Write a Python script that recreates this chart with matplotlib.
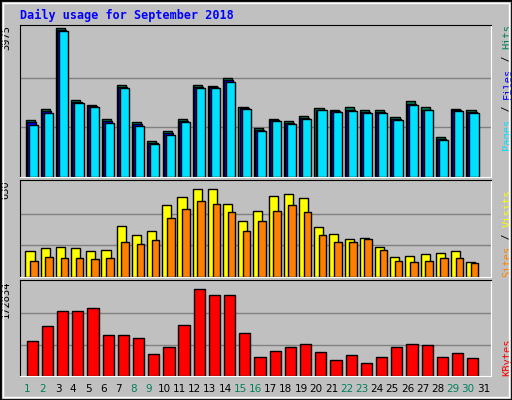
import numpy as np
import matplotlib
matplotlib.use("Agg")
import matplotlib.pyplot as plt
from matplotlib.patches import Rectangle

days = list(range(1, 31))
weekend = [1, 2, 8, 9, 15, 16, 22, 23, 29, 30]

hits = [1522, 1807, 3975, 2048, 1914, 1540, 2448, 1460, 953, 1220,
        1540, 2448, 2422, 2635, 1860, 1300, 1540, 1487, 1620, 1834,
        1780, 1860, 1780, 1780, 1594, 2020, 1860, 1060, 1807, 1780]
files = [1470, 1760, 3930, 2010, 1890, 1490, 2410, 1410, 910, 1170,
         1500, 2410, 2400, 2580, 1830, 1250, 1510, 1450, 1580, 1800,
         1760, 1800, 1740, 1740, 1560, 1960, 1800, 1020, 1780, 1740]
pages = [1380, 1700, 3890, 1968, 1860, 1434, 2370, 1353, 873, 1113,
         1460, 2370, 2370, 2528, 1807, 1220, 1487, 1407, 1540, 1780,
         1727, 1753, 1700, 1700, 1514, 1914, 1780, 980, 1753, 1700]
visits = [172, 191, 197, 191, 172, 178, 337, 275, 305, 477,
          528, 585, 585, 483, 369, 439, 534, 553, 522, 331,
          286, 254, 261, 197, 133, 140, 153, 159, 172, 102]
sites = [108, 134, 127, 127, 121, 127, 229, 216, 248, 388,
         452, 502, 483, 432, 305, 369, 439, 477, 432, 280,
         229, 229, 254, 178, 108, 102, 108, 127, 127, 95]
kbytes = [63438, 91374, 119310, 119310, 124548, 75660, 75660, 70422, 40740, 52962,
          93120, 159468, 148992, 148992, 79152, 35502, 45978, 52962, 58200, 44232,
          28518, 38994, 23280, 35502, 52962, 58200, 56454, 35502, 42486, 33756]
max_hits = 3975
max_visits = 630
max_kb = 172834

W, H = 512, 400
BG = "#C0C0C0"
fig = plt.figure(figsize=(W / 100, H / 100), dpi=100, facecolor=BG)

# 3D frame
fig.patches.append(Rectangle((0, 0), 1, 1, transform=fig.transFigure,
                             fill=False, ec="black", lw=2))
fig.patches.append(Rectangle((3 / W, 3 / H), 1 - 6 / W, 1 - 6 / H, transform=fig.transFigure,
                             fill=False, ec="white", lw=1))
fig.text(20 / W, 1 - 15 / H, "Daily usage for September 2018", color="#0000FF",
         fontsize=8.5, fontweight="bold", family="DejaVu Sans Mono", va="center")

def make_ax(top, bottom):
    ax = fig.add_axes([20 / W, 1 - bottom / H, 471 / W, (bottom - top) / H])
    ax.set_facecolor(BG)
    ax.set_xlim(0.5, 31.5)
    ax.set_xticks([])
    ax.set_yticks([])
    for s in ax.spines.values():
        s.set_color("black")
    ax.spines["right"].set_color("white")
    ax.spines["bottom"].set_color("white")
    return ax

x = np.array(days)
kw = dict(align="edge", edgecolor="black", linewidth=1)

ax1 = make_ax(25, 177)
ax1.set_ylim(0, max_hits * 1.02)
for g in (1 / 3, 2 / 3):
    ax1.axhline(max_hits * g, color="#808080", lw=1, zorder=0)
ax1.bar(x - 0.12, hits, 0.6, color="#00805C", **kw)
ax1.bar(x - 0.05, files, 0.6, color="#0000FF", **kw)
ax1.bar(x + 0.08, pages, 0.6, color="#00E0FF", **kw)

ax2 = make_ax(180, 277)
ax2.set_ylim(0, max_visits * 1.02)
for g in (1 / 3, 2 / 3):
    ax2.axhline(max_visits * g, color="#808080", lw=1, zorder=0)
ax2.bar(x - 0.14, visits, 0.6, color="#FFFF00", **kw)
ax2.bar(x + 0.17, sites, 0.5, color="#FF8000", **kw)

ax3 = make_ax(280, 376)
ax3.set_ylim(0, max_kb * 1.02)
for g in (1 / 3, 2 / 3):
    ax3.axhline(max_kb * g, color="#808080", lw=1, zorder=0)
ax3.bar(x - 0.07, kbytes, 0.74, color="#FF0000", **kw)

mono = "DejaVu Sans Mono"
for ax, val in ((ax1, max_hits), (ax2, max_visits), (ax3, max_kb)):
    ax.text(-0.03, 1.0, str(val), transform=ax.transAxes, rotation=90,
            ha="center", va="top", fontsize=7.5, family=mono)

def right_label(ax, parts):
    # stacked coloured pieces, reading bottom to top
    y = 0.0 if ax is not ax1 else 0.18
    ypos = {ax1: 0.18, ax2: 0.0, ax3: 0.0}[ax]
    ax_h = ax.get_position().height * H
    for txt, col in parts:
        ax.text(1.035, ypos, txt, transform=ax.transAxes, rotation=90,
                ha="center", va="bottom", fontsize=7.5, family=mono, color=col)
        ypos += len(txt) * 6.3 / ax_h

right_label(ax1, [("Pages", "#00E0FF"), (" / ", "black"), ("Files", "#0000FF"),
                  (" / ", "black"), ("Hits", "#00805C")])
right_label(ax2, [("Sites", "#FF8000"), (" / ", "black"), ("Visits", "#FFFF00")])
right_label(ax3, [("KBytes", "#FF0000")])

for d in range(1, 32):
    col = "#00805C" if d in weekend else "black"
    ax3.text(d, -0.14, str(d), transform=ax3.get_xaxis_transform(),
             ha="center", va="center", fontsize=7.5, color=col)

fig.savefig("out.png", dpi=100, facecolor=BG)
